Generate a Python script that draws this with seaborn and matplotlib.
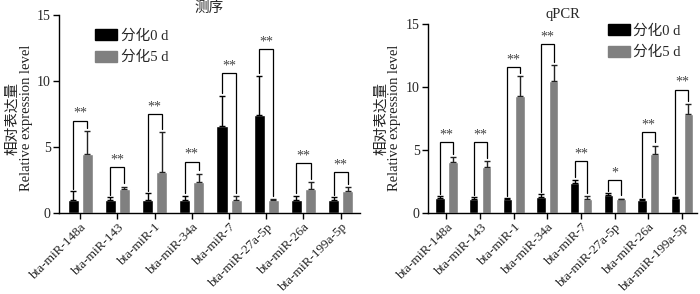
import matplotlib
matplotlib.use("Agg")
import matplotlib.pyplot as plt
import seaborn as sns
import pandas as pd
import numpy as np
from matplotlib.patches import Patch

sns.set_theme(style="ticks")
plt.rcParams['font.family'] = ['Liberation Serif', 'Noto Sans CJK SC']
plt.rcParams['axes.unicode_minus'] = False

categories = ["bta-miR-148a", "bta-miR-143", "bta-miR-1", "bta-miR-34a",
              "bta-miR-7", "bta-miR-27a-5p", "bta-miR-26a", "bta-miR-199a-5p"]
groups = ["分化0 d", "分化5 d"]
ylabel_cn = "相对表达量"
ylabel_en = "Relative expression level"

# 测序 (sequencing)
seq_0d = [1.0, 1.0, 1.0, 1.0, 6.6, 7.45, 1.0, 1.0]
seq_0d_err = [0.65, 0.2, 0.5, 0.3, 2.3, 2.95, 0.3, 0.2]
seq_5d = [4.5, 1.85, 3.1, 2.38, 1.0, 0.95, 1.8, 1.65]
seq_5d_err = [1.7, 0.15, 3.05, 0.6, 0.3, 0.1, 0.55, 0.3]
seq_bracket = [7.0, 3.5, 7.5, 3.9, 10.6, 12.4, 3.8, 3.1]
seq_sig = ["**", "**", "**", "**", "**", "**", "**", "**"]

# qPCR
q_0d = [1.2, 1.15, 1.1, 1.3, 2.4, 1.42, 1.05, 1.18]
q_0d_err = [0.12, 0.1, 0.06, 0.18, 0.25, 0.15, 0.05, 0.1]
q_5d = [4.07, 3.63, 9.25, 10.45, 1.15, 1.1, 4.7, 7.82]
q_5d_err = [0.4, 0.52, 1.65, 1.3, 0.2, 0.05, 0.65, 0.82]
q_bracket = [5.6, 5.6, 11.6, 13.4, 4.15, 2.6, 6.45, 9.8]
q_sig = ["**", "**", "**", "**", "**", "*", "**", "**"]

BLACK = "#000000"
GRAY = "#808080"

fig = plt.figure(figsize=(7.0, 2.94), dpi=100)
W, H = 700, 294
ax1 = fig.add_axes([59 / W, 1 - 213 / H, (360 - 59) / W, (213 - 15) / H])
ax2 = fig.add_axes([428 / W, 1 - 213 / H, (697 - 428) / W, (213 - 24) / H])


def draw(ax, v0, e0, v5, e5, br, sig, xlim, gap, title, tpad, legend_anchor,
         legend_loc, ylab_x):
    df = pd.DataFrame({
        "miRNA": categories * 2,
        "group": [groups[0]] * len(categories) + [groups[1]] * len(categories),
        "value": list(v0) + list(v5),
    })
    sns.barplot(data=df, x="miRNA", y="value", hue="group", order=categories,
                hue_order=groups, palette=[BLACK, GRAY], width=0.76, gap=gap,
                errorbar=None, ax=ax, legend=False, saturation=1)
    c0, c5 = ax.containers[0], ax.containers[1]
    for i in range(len(categories)):
        b0, b5 = c0[i], c5[i]
        x0 = b0.get_x() + b0.get_width() / 2
        x5 = b5.get_x() + b5.get_width() / 2
        ax.errorbar([x0], [v0[i]], yerr=[[0], [e0[i]]], fmt="none",
                    ecolor="black", elinewidth=1.0, capsize=2.5, capthick=1.0)
        ax.errorbar([x5], [v5[i]], yerr=[[0], [e5[i]]], fmt="none",
                    ecolor="#222222", elinewidth=1.0, capsize=2.5, capthick=1.0)
        t0 = v0[i] + e0[i] + 0.2
        t5 = v5[i] + e5[i] + 0.25
        ax.plot([x0, x0, x5, x5], [t0, br[i], br[i], t5], color="black", lw=0.9,
                solid_joinstyle="miter")
        ax.text((x0 + x5) / 2, br[i] + 0.05, sig[i], ha="center", va="bottom",
                fontsize=10, color="#444444")
    ax.set_xlim(*xlim)
    ax.set_ylim(0, 15)
    ax.set_yticks([0, 5, 10, 15])
    ax.set_xlabel("")
    ax.set_ylabel("")
    ax.tick_params(axis="both", labelsize=10, length=4, width=1, color="black",
                   pad=2)
    ax.set_xticks(range(len(categories)))
    ax.set_xticklabels(categories, rotation=45, ha="right", rotation_mode="anchor",
                       fontsize=9.5)
    for s in ["top", "right"]:
        ax.spines[s].set_visible(False)
    for s in ["left", "bottom"]:
        ax.spines[s].set_color("black")
        ax.spines[s].set_linewidth(1.0)
    ax.set_title(title, fontsize=10.5, pad=tpad)
    handles = [Patch(facecolor=BLACK, edgecolor=BLACK), Patch(facecolor=GRAY, edgecolor=GRAY)]
    ax.legend(handles, groups, loc=legend_loc, bbox_to_anchor=legend_anchor,
              frameon=False, fontsize=10.5, handlelength=1.5, handleheight=0.8,
              handletextpad=0.25, labelspacing=0.55, borderpad=0, borderaxespad=0)
    # two-line y label (Chinese outer, English inner); x = baseline position
    yc = 1 - 118 / H
    fig.text(ylab_x[0] / W, yc, ylabel_cn, rotation=90, ha="center", va="baseline",
             rotation_mode="anchor", fontsize=10.5, family=['Noto Sans CJK SC'],
             color="#222222")
    fig.text(ylab_x[1] / W, yc, ylabel_en, rotation=90, ha="center", va="baseline",
             rotation_mode="anchor", fontsize=10.5, color="#222222")


draw(ax1, seq_0d, seq_0d_err, seq_5d, seq_5d_err, seq_bracket, seq_sig,
     (-0.57, 7.52), 0.21, "测序", 2, (0.12, 0.93), "upper left", (16.5, 30.5))
draw(ax2, q_0d, q_0d_err, q_5d, q_5d_err, q_bracket, q_sig,
     (-0.55, 7.45), 0.26, "qPCR", 4, (0.94, 1.0), "upper right", (385, 398))

fig.savefig("out.png", dpi=100)
